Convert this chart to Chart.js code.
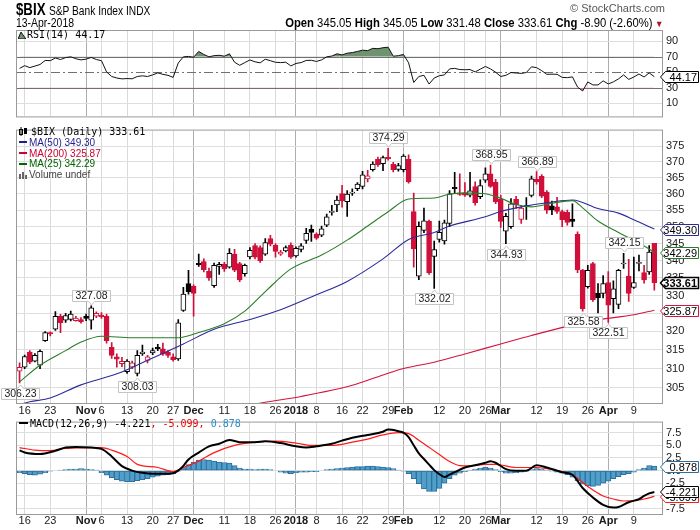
<!DOCTYPE html>
<html><head><meta charset="utf-8"><title>$BIX S&amp;P Bank Index</title>
<script src="https://cdn.jsdelivr.net/npm/chart.js@4.4.1/dist/chart.umd.min.js"></script>
<style>
html,body{margin:0;padding:0;background:#fff}
#wrap{position:relative;width:700px;height:530px;overflow:hidden;background:#fff}
canvas{position:absolute;left:0}
.t{position:absolute;white-space:nowrap;line-height:12px;font-family:"Liberation Sans",Arial,sans-serif;font-size:10px;color:#000}
.m{font-family:"DejaVu Sans Mono",monospace;font-size:10px}
.nl{transform-origin:left center}
.nr{transform-origin:right center}
.ic{display:inline-block;width:8px;height:2px;vertical-align:middle;margin-right:2px;position:relative;top:-1px}
</style></head>
<body><div id="wrap">
<canvas id="cRsi" width="700" height="127" style="top:0px"></canvas>
<canvas id="cPrice" width="700" height="298" style="top:120px"></canvas>
<canvas id="cMacd" width="700" height="118" style="top:412px"></canvas>
<div class="t nl" style="left:16px;top:1px;font-size:17px;line-height:18px;font-weight:bold;transform:scaleX(0.78)">$BIX</div>
<div class="t nl" style="left:49px;top:4px;font-size:12px;line-height:14px;transform:scaleX(0.85)">S&amp;P Bank Index INDX</div>
<div class="t nl" style="left:16px;top:16px;font-size:12px;line-height:14px;transform:scaleX(0.87)">13-Apr-2018</div>
<div class="t nr" id="ohlc" style="right:37px;top:16px;font-size:12px;line-height:14px;transform:scaleX(0.94)"></div>
<div class="t" style="right:35px;top:2px;font-size:11px;color:#555">© StockCharts.com</div>
<div class="t m" id="lgRsi" style="left:18px;top:29px"></div>
<div class="t" id="lgPrice" style="left:19px;top:127px;line-height:10.75px"></div>
<div class="t m" id="lgMacd" style="left:19px;top:418px"></div>
</div>
<script>
const FONT = '"Liberation Sans", Arial, sans-serif';
const RED = '#d0103a';

// ---- categories: trading days ----
const tradingDays = [
  ['2017-10',[13,16,17,18,19,20,23,24,25,26,27,30,31]],
  ['2017-11',[1,2,3,6,7,8,9,10,13,14,15,16,17,20,21,22,24,27,28,29,30]],
  ['2017-12',[1,4,5,6,7,8,11,12,13,14,15,18,19,20,21,22,26,27,28,29]],
  ['2018-01',[2,3,4,5,8,9,10,11,12,16,17,18,19,22,23,24,25,26,29,30,31]],
  ['2018-02',[1,2,5,6,7,8,9,12,13,14,15,16,20,21,22,23,26,27,28]],
  ['2018-03',[1,2,5,6,7,8,9,12,13,14,15,16,19,20,21,22,23,26,27,28,29]],
  ['2018-04',[2,3,4,5,6,9,10,11,12,13]]
];
const dates = [];
tradingDays.forEach(([ym, days]) => days.forEach(d => dates.push(ym + '-' + String(d).padStart(2, '0'))));
const cats = dates.concat(['']);

// ---- x tick labels ----
const tickIdx  = [1,6,13,16,21,26,30,34,40,45,50,54,58,63,67,72,75,82,87,91,94,101,106,111,115,120];
const tickText = ['16','23','Nov','6','13','20','27','Dec','11','18','26','2018','8','16','22','29','Feb','12','20','26','Mar','12','19','26','Apr','9'];
const majorText = ['Nov','Dec','2018','Feb','Mar','Apr'];

// ---- price OHLC ----
const opens = [309.3,310.4,314.4,312.0,310.9,317.5,319.7,320.6,324.2,323.1,
323.3,323.0,323.3,324.2,323.1,324.2,324.5,324.2,315.7,313.1,
311.3,309.2,310.4,308.7,314.0,312.2,314.2,315.7,315.3,314.4,
313.1,312.6,325.8,333.4,332.6,339.2,339.7,336.9,332.8,338.3,
339.0,338.1,341.9,339.1,336.2,341.1,344.4,343.8,341.9,346.5,
344.5,341.9,342.8,344.5,341.4,343.3,345.9,349.2,347.8,347.5,
350.5,354.3,356.6,360.1,357.6,360.2,361.6,362.3,364.6,367.5,
370.8,369.4,371.5,369.2,367.6,367.5,370.8,354.6,335.5,348.9,
351.6,341.2,346.2,345.8,351.0,362.0,360.3,360.4,359.6,362.2,
359.1,364.2,366.2,363.6,358.3,348.7,350.0,358.3,352.2,356.4,
359.5,364.5,365.4,360.5,356.3,356.0,354.6,354.3,352.3,347.7,
337.2,332.5,339.1,330.6,330.6,333.7,329.1,327.5,339.0,335.5,
332.3,339.2,336.5,336.7,345.05];
const highs = [311.5,313.6,314.8,314.0,315.0,320.0,319.9,325.5,324.7,325.0,
325.6,324.2,323.8,324.8,327.08,325.4,325.2,324.8,317.0,313.9,
313.0,312.4,312.0,314.8,316.3,313.5,315.5,316.5,316.8,314.8,
313.9,323.3,332.3,337.2,333.0,341.9,340.5,337.8,339.3,339.5,
339.5,343.5,343.3,339.5,339.0,343.8,345.0,344.3,346.5,347.4,
345.0,343.0,344.3,345.2,344.0,345.0,349.5,350.5,348.2,350.2,
353.8,356.5,359.3,362.6,361.0,361.5,363.5,367.0,367.3,370.0,
371.5,371.8,374.29,369.8,369.5,372.3,372.2,360.2,351.5,355.6,
352.0,345.7,351.7,352.0,361.0,366.7,366.2,363.5,366.7,363.7,
364.3,368.1,368.95,364.5,359.5,354.0,358.5,359.2,356.5,358.8,
365.5,366.89,366.0,361.0,357.8,358.9,355.0,355.0,356.9,348.5,
337.5,338.6,339.5,333.4,335.7,336.8,334.2,337.5,342.15,340.4,
341.0,341.6,338.6,344.4,345.05];
const lows = [306.23,310.0,311.3,311.8,310.0,317.3,318.8,320.3,319.7,322.5,
322.9,322.8,322.3,323.0,320.6,323.8,323.6,316.8,312.7,310.4,
310.5,308.7,310.0,308.03,313.5,311.5,313.7,314.8,313.5,313.0,
312.0,312.2,325.5,330.4,324.2,338.3,336.7,334.3,332.3,336.0,
336.9,337.8,336.8,333.9,335.5,340.5,340.5,339.5,341.5,344.3,
341.0,341.5,342.5,340.6,341.0,342.5,345.0,345.6,346.2,347.0,
350.0,353.5,354.5,355.9,353.1,359.5,361.0,361.5,363.7,367.0,
368.5,367.2,370.5,366.8,367.0,366.8,363.3,338.1,334.5,348.2,
336.0,332.02,345.4,344.8,350.0,360.0,359.5,359.2,359.0,356.5,
358.5,363.5,362.0,357.0,349.8,344.93,349.5,355.5,351.0,352.2,
359.0,363.0,358.8,354.0,353.6,354.0,350.0,350.5,350.0,336.5,
325.58,332.1,328.3,325.1,329.3,322.51,325.1,326.3,337.7,328.3,
332.0,337.0,333.5,336.0,331.48];
const closes = [310.3,313.2,311.7,313.5,314.6,319.7,319.3,324.2,322.4,324.4,
324.8,323.7,322.7,323.6,326.5,325.0,324.1,317.5,313.5,312.5,
311.9,312.0,311.5,313.5,314.4,313.1,314.8,315.3,313.9,313.5,
312.4,322.4,330.4,331.1,330.6,338.8,337.4,335.0,338.6,338.9,
337.6,342.1,337.2,334.4,338.6,343.0,341.0,340.0,345.3,344.8,
342.7,342.5,343.8,341.0,343.6,344.3,348.0,348.3,346.6,349.4,
353.0,354.5,358.1,357.8,359.9,360.5,363.0,365.9,365.6,369.3,
369.1,371.3,371.0,367.5,368.8,371.8,363.7,343.4,350.1,351.8,
336.5,343.2,348.3,351.2,360.0,361.6,359.8,359.6,360.9,357.3,
362.5,366.2,362.3,357.5,351.6,353.1,356.9,356.6,355.6,356.1,
364.6,363.7,359.3,355.0,355.1,354.6,352.1,351.3,351.6,337.3,
326.3,337.2,328.8,329.3,333.4,327.3,331.9,337.2,339.3,330.6,
333.7,339.5,334.4,342.51,333.61];
const firstPrevClose = 311.0;   // close of the day before the window (estimated)

// annotated extremes (candle indices)
const peakIdx = [14,72,92,101,118];
const troughIdx = [0,23,81,95,110,115];

// ---- moving averages (read points: [dayIndex, value]) ----
const ma25Pts = [[0,306.5],[4,310.9],[9,314.8],[12,317.1],[16,318.7],[22,318.3],[31,318.3],[35,319.7],[40,322.1],[44,325.6],[48,331.1],[53,337.6],[59,341.6],[64,346.0],[68,350.2],[72,354.5],[76,358.4],[81,358.7],[84,359.9],[88,360.2],[91,360.0],[94,358.6],[97,356.7],[100,356.0],[104,357.1],[108,357.9],[110,355.7],[113,351.7],[117,348.3],[120,345.9],[123,343.4],[124,342.29]];
const ma50Pts = [[0,300.6],[2,301.3],[6,302.3],[12,305.7],[19,308.6],[25,312.2],[32,316.6],[38,320.6],[45,323.3],[51,326.0],[58,330.2],[64,334.0],[71,340.5],[76,346.2],[81,348.3],[84,350.2],[91,353.0],[94,354.6],[98,356.0],[104,357.5],[108,358.1],[113,355.5],[117,354.1],[120,352.1],[124,349.30]];
const ma200Pts = [[46,300.7],[48,301.2],[55,302.7],[65,305.6],[71,308.3],[75,310.0],[81,311.7],[87,313.9],[94,316.6],[100,318.9],[107,321.4],[113,323.2],[120,324.6],[124,325.87]];

// ---- RSI(14) ----
const rsi = [55,58.5,56,58,60,65.3,65,68.5,66.5,69,
70,67.5,66,67,69.2,66.5,65,50.4,44.5,42.5,
41.4,41.8,41.5,44.5,45.3,44.5,46.5,49.2,47.3,46,
43.3,62,70,70.5,69.5,77,73,70,71.5,72,
70.8,73.9,63,59,62.5,66,63.5,62.2,66.9,65,
62.9,62.5,63,58.2,61.4,62.5,65.3,65.5,64,66,
70,71,73.9,72.5,74.7,75.5,77,78.6,78,81,
80.5,81.8,82.5,70.8,71.5,73.1,62.2,36.7,44.5,46,
34.7,42.5,45.5,46.5,54.3,55,53.5,53.2,53.5,50.4,
54,57.5,54.3,50,44.5,46,49.6,49,48.5,49.6,
57,56,52,47.3,47.5,47.3,43.3,43,44,30.8,
25.7,37.4,33.5,33.5,38.8,34.8,37.5,41.4,46.5,40.7,
43.8,47.7,43.8,49.2,44.17];
const rsiLevels = [30, 50, 70];

// ---- MACD(12,26,9) ----
const macdPts = [[0,4.0],[1,3.6],[4,3.3],[7,3.94],[9,4.56],[11,4.69],[14,4.56],[16,4.3],[18,2.8],[20,0.9],[22,0.0],[24,-0.44],[26,-0.63],[28,-0.63],[30,-0.5],[31,0.0],[32,0.94],[33,2.2],[35,3.56],[37,4.8],[39,5.3],[41,6.06],[43,5.62],[46,5.62],[48,5.81],[51,5.44],[54,4.8],[56,4.56],[58,4.8],[61,5.3],[63,5.93],[65,6.5],[68,7.05],[71,7.69],[72,8.12],[74,7.8],[75,7.5],[76,6.6],[77,5.0],[78,3.4],[79,2.3],[80,1.2],[81,0.1],[82,-0.7],[83,-1.25],[84,-0.8],[85,-0.3],[87,0.62],[89,1.05],[91,1.56],[92,1.87],[93,1.56],[95,0.31],[97,0.0],[99,0.0],[101,1.05],[103,0.62],[106,-0.31],[108,-0.81],[110,-3.44],[112,-5.31],[114,-6.75],[116,-7.31],[117,-7.19],[119,-6.25],[121,-5.62],[122,-5.0],[123,-4.5],[124,-4.221]];
const signalPts = [[0,4.56],[3,4.05],[6,3.94],[9,4.37],[12,4.5],[16,4.56],[18,4.05],[21,2.81],[23,1.24],[27,0.62],[30,-0.19],[32,0.62],[35,1.87],[38,3.56],[42,4.99],[46,5.62],[50,5.81],[54,5.44],[57,4.99],[61,4.99],[65,5.62],[68,6.24],[71,7.05],[74,7.5],[76,7.3],[78,6.0],[80,4.6],[82,3.2],[84,1.8],[86,1.0],[88,0.95],[91,1.24],[93,1.24],[97,0.62],[101,0.62],[105,0.0],[108,-0.81],[111,-3.12],[114,-5.0],[116,-5.6],[118,-6.0],[120,-5.94],[122,-5.6],[124,-5.099]];
const hist = [-0.4,-0.6,-0.8,-0.9,-0.7,-0.4,-0.1,0.0,0.1,0.2,
0.3,0.3,0.4,0.3,0.2,0.1,-0.4,-0.9,-1.4,-1.8,
-2.1,-2.2,-2.2,-2.0,-1.8,-1.6,-1.3,-1.1,-0.9,-0.8,
-0.6,-0.1,0.6,1.2,1.7,2.1,2.2,2.1,1.9,1.7,
1.6,1.5,1.0,0.5,0.3,0.3,0.2,0.3,0.3,0.2,
0.0,-0.3,-0.5,-0.6,-0.4,-0.3,-0.3,-0.2,-0.2,0.0,
0.2,0.3,0.4,0.5,0.6,0.7,0.8,0.8,0.9,0.9,
0.8,0.7,0.6,0.4,0.1,-0.1,-0.6,-1.6,-2.6,-3.6,
-4.1,-4.1,-3.5,-2.5,-1.6,-0.9,-0.5,-0.2,0.1,0.3,
0.5,0.7,0.5,0.2,-0.2,-0.5,-0.5,-0.4,-0.3,-0.1,
0.2,0.4,0.3,0.1,-0.1,-0.3,-0.5,-0.8,-1.3,-2.0,
-2.7,-3.0,-3.1,-2.9,-2.5,-2.1,-1.6,-1.2,-0.8,-0.6,
-0.3,0.2,0.5,1.0,0.878];

// ---- axis ticks ----
const priceTicks = [305,310,315,320,325,330,335,340,345,350,355,360,365,370,375];
const rsiTicks = [10,30,50,70,90];
const macdTicks = [-7.5,-5,-2.5,0,2.5,5,7.5];

// ================= helpers =================
function series(pts){ const a = new Array(dates.length).fill(null); pts.forEach(([i, v]) => { a[i] = v; }); return a; }
const last = a => { for (let i = a.length - 1; i >= 0; i--) if (a[i] != null) return a[i]; };
const tickMap = {}; tickIdx.forEach((ix, k) => { tickMap[ix] = tickText[k]; });
const isMajor = i => majorText.includes(tickMap[i]);
const gridX = i => tickMap[i] === undefined ? 'rgba(0,0,0,0)' : (isMajor(i) ? '#adadad' : '#dadada');

function xScale(showTicks, h, pad){
  return {
    type: 'category', labels: cats, offset: true,
    grid: { offset: false, drawTicks: false, lineWidth: 1, color: c => gridX(c.index) },
    border: { display: false },
    ticks: showTicks ? {
      autoSkip: false, maxRotation: 0, minRotation: 0, padding: pad, color: '#1a1a1a',
      font: c => ({ family: FONT, size: 11, weight: isMajor(c.index) ? 'bold' : 'normal' }),
      callback: (v, i) => (tickMap[i] !== undefined ? tickMap[i] : '')
    } : { display: false },
    afterFit: s => { s.height = h; }
  };
}
function yScale(extra, ticks, fmt){
  return Object.assign({
    position: 'right', bounds: 'data',
    afterBuildTicks: s => { s.ticks = ticks.map(v => ({ value: v })); },
    afterFit: s => { s.width = 38; },
    grid: { color: '#dedede', drawTicks: false },
    border: { display: false },
    ticks: { padding: 4, color: '#1a1a1a', autoSkip: false, font: { family: FONT, size: 11 }, callback: fmt }
  }, extra);
}
const frame = { id: 'frame', afterDraw(chart){
  const { ctx, chartArea: a } = chart; ctx.save(); ctx.strokeStyle = '#9a9a9a'; ctx.lineWidth = 1;
  ctx.strokeRect(a.left - 0.5, a.top - 0.5, a.right - a.left + 1, a.bottom - a.top + 1); ctx.restore(); } };

function valueTag(ctx, y, text, border, bold){
  ctx.save();
  ctx.font = (bold ? 'bold ' : '') + '11px ' + FONT;
  const x0 = 660.5, x1 = 698.5, h = 11;
  const top = Math.round(y - h / 2) + 0.5, bot = top + h, mid = (top + bot) / 2;
  ctx.beginPath(); ctx.moveTo(x0, mid); ctx.lineTo(x0 + 5, top); ctx.lineTo(x1, top); ctx.lineTo(x1, bot); ctx.lineTo(x0 + 5, bot); ctx.closePath();
  ctx.fillStyle = '#fff'; ctx.fill(); ctx.strokeStyle = border; ctx.lineWidth = bold ? 1.5 : 1; ctx.stroke();
  ctx.fillStyle = '#000'; ctx.textBaseline = 'middle'; ctx.textAlign = 'right';
  ctx.fillText(text, x1 - 1.5, mid + 0.5);
  ctx.restore();
}
function valueTags(list){
  return { id: 'vtags', afterDraw(chart){ const ys = chart.scales.y; list.forEach(t => valueTag(chart.ctx, ys.getPixelForValue(t.v), t.text, t.color, t.bold)); } };
}
function extremeTag(ctx, x, y, text, up){
  const w = Math.round(ctx.measureText(text).width) + 6, h = 11;
  const bx = Math.round(x - w / 2) + 0.5;
  const cx = Math.round(x) + 0.5;
  ctx.beginPath();
  if (up){
    const bb = Math.round(y) - 4.5, bt = bb - h;
    ctx.moveTo(bx, bt); ctx.lineTo(bx + w, bt); ctx.lineTo(bx + w, bb); ctx.lineTo(cx + 3, bb); ctx.lineTo(cx, bb + 3.5); ctx.lineTo(cx - 3, bb); ctx.lineTo(bx, bb); ctx.closePath();
    ctx.fillStyle = '#fff'; ctx.fill(); ctx.stroke();
    ctx.fillStyle = '#1a1a1a'; ctx.fillText(text, bx + w / 2, (bt + bb) / 2 + 0.5);
  } else {
    const bt = Math.round(y) + 5.5, bb = bt + h;
    ctx.moveTo(bx, bt); ctx.lineTo(cx - 3, bt); ctx.lineTo(cx, bt - 3.5); ctx.lineTo(cx + 3, bt); ctx.lineTo(bx + w, bt); ctx.lineTo(bx + w, bb); ctx.lineTo(bx, bb); ctx.closePath();
    ctx.fillStyle = '#fff'; ctx.fill(); ctx.stroke();
    ctx.fillStyle = '#1a1a1a'; ctx.fillText(text, bx + w / 2, (bt + bb) / 2 + 0.5);
  }
}
const extremes = { id: 'extremes', afterDatasetsDraw(chart){
  const { ctx } = chart, xs = chart.scales.x, ys = chart.scales.y;
  ctx.save(); ctx.font = '10.5px ' + FONT; ctx.textAlign = 'center'; ctx.textBaseline = 'middle'; ctx.strokeStyle = '#c4c4c4'; ctx.lineWidth = 1;
  peakIdx.forEach(i => extremeTag(ctx, xs.getPixelForValue(i), ys.getPixelForValue(highs[i]), highs[i].toFixed(2), true));
  troughIdx.forEach(i => extremeTag(ctx, xs.getPixelForValue(i), ys.getPixelForValue(lows[i]), lows[i].toFixed(2), false));
  ctx.restore(); } };
const rsiRefLines = { id: 'rsiRef', beforeDatasetsDraw(chart){
  const { ctx, chartArea: a } = chart, ys = chart.scales.y;
  ctx.save(); ctx.strokeStyle = '#707070'; ctx.lineWidth = 1;
  rsiLevels.forEach(v => {
    const py = Math.round(ys.getPixelForValue(v)) + 0.5;
    ctx.setLineDash(v === 50 ? [9, 3, 2, 3] : []);
    ctx.beginPath(); ctx.moveTo(a.left, py); ctx.lineTo(a.right, py); ctx.stroke();
  });
  ctx.restore(); } };

const baseOpts = (padTop, padBottom) => ({
  responsive: false, animation: false, devicePixelRatio: 1, events: [],
  layout: { padding: { left: 17, right: 0, top: padTop, bottom: padBottom } },
  plugins: { legend: { display: false }, tooltip: { enabled: false } }
});

// ================= RSI panel =================
new Chart(document.getElementById('cRsi'), {
  type: 'line',
  data: { labels: cats, datasets: [
    { data: rsi, borderColor: '#111', borderWidth: 1, pointRadius: 0, tension: 0,
      fill: { target: { value: 70 }, above: '#6e936e', below: 'rgba(0,0,0,0)' }, order: 0 },
    { data: rsi, borderColor: 'rgba(0,0,0,0)', borderWidth: 0, pointRadius: 0, tension: 0,
      fill: { target: { value: 30 }, above: 'rgba(0,0,0,0)', below: '#e07a85' }, order: 1 }
  ]},
  options: Object.assign(baseOpts(31, 1), {
    scales: {
      x: xScale(false, 0, 0),
      y: yScale({ type: 'linear', min: -7.3, max: 103.5,
        grid: { drawTicks: false, color: c => ((c.tick && (c.tick.value === 10 || c.tick.value === 90)) ? '#dedede' : 'rgba(0,0,0,0)') } },
        rsiTicks, v => String(v))
    }
  }),
  plugins: [rsiRefLines, frame, valueTags([{ v: last(rsi), text: last(rsi).toFixed(2), color: '#000' }])]
});

// ================= Price panel =================
const wickData = dates.map((d, i) => [lows[i], highs[i]]);
const bodyData = dates.map((d, i) => [Math.min(opens[i], closes[i]), Math.max(opens[i], closes[i])]);
const candleCol = dates.map((d, i) => (closes[i] >= (i ? closes[i - 1] : firstPrevClose) ? '#000000' : RED));
const bodyFill = dates.map((d, i) => (closes[i] > opens[i] ? '#ffffff' : candleCol[i]));
const ma25 = series(ma25Pts), ma50 = series(ma50Pts), ma200 = series(ma200Pts);
const lineDs = (data, color) => ({ type: 'line', data, borderColor: color, borderWidth: 1.1, pointRadius: 0, spanGaps: true, cubicInterpolationMode: 'monotone', order: 0 });

new Chart(document.getElementById('cPrice'), {
  type: 'bar',
  data: { labels: cats, datasets: [
    lineDs(ma25, '#2a7d2a'),
    lineDs(ma50, '#2b2b9c'),
    lineDs(ma200, '#d4143c'),
    { data: bodyData, backgroundColor: bodyFill, borderColor: candleCol, borderWidth: 1, borderSkipped: false, barThickness: 5, grouped: false, minBarLength: 1, order: 1 },
    { data: wickData, backgroundColor: candleCol, borderWidth: 0, barThickness: 1, grouped: false, order: 2 }
  ]},
  options: Object.assign(baseOpts(6, 0), {
    scales: {
      x: xScale(true, 15, 1),
      y: yScale({ type: 'logarithmic', min: 301, max: 380 }, priceTicks, v => String(v))
    }
  }),
  plugins: [frame, extremes, valueTags([
    { v: last(ma50), text: last(ma50).toFixed(2), color: '#2b2b9c' },
    { v: last(ma25), text: last(ma25).toFixed(2), color: '#2a7d2a' },
    { v: last(closes), text: last(closes).toFixed(2), color: '#000', bold: true },
    { v: last(ma200), text: last(ma200).toFixed(2), color: '#d4143c' }
  ])]
});

// ================= MACD panel =================
const macd = series(macdPts), signal = series(signalPts);
new Chart(document.getElementById('cMacd'), {
  type: 'bar',
  data: { labels: cats, datasets: [
    { type: 'line', data: macd, borderColor: '#000', borderWidth: 2, pointRadius: 0, spanGaps: true, cubicInterpolationMode: 'monotone', order: 0 },
    { type: 'line', data: signal, borderColor: '#ff1a1a', borderWidth: 1.2, pointRadius: 0, spanGaps: true, cubicInterpolationMode: 'monotone', order: 1 },
    { data: hist, backgroundColor: '#4f9fcc', borderColor: '#2e6f9c', borderWidth: 1, borderSkipped: false, barPercentage: 1, categoryPercentage: 1, order: 2 }
  ]},
  options: Object.assign(baseOpts(6, 0), {
    scales: {
      x: xScale(true, 16, 0),
      y: yScale({ type: 'linear', min: -8.57, max: 9.49 }, macdTicks, v => v.toFixed(1))
    }
  }),
  plugins: [frame, valueTags([
    { v: last(hist), text: last(hist).toFixed(3), color: '#2e6f9c' },
    { v: last(signal), text: last(signal).toFixed(3), color: '#ff1a1a' },
    { v: last(macd), text: last(macd).toFixed(3), color: '#000' }
  ])]
});

// ================= text legends =================
const n = closes.length - 1;
const chg = closes[n] - closes[n - 1];
document.getElementById('ohlc').innerHTML =
  '<b>Open</b> ' + opens[n].toFixed(2) + ' <b>High</b> ' + highs[n].toFixed(2) + ' <b>Low</b> ' + lows[n].toFixed(2) +
  ' <b>Close</b> ' + closes[n].toFixed(2) + ' <b>Chg</b> ' + chg.toFixed(2) + ' (' + (chg / closes[n - 1] * 100).toFixed(2) + '%)' +
  '<span style="color:#b0102a;font-size:9px"> ▼</span>';
document.getElementById('lgRsi').innerHTML =
  '<svg width="8" height="9" style="vertical-align:-1px;margin-right:1px"><polygon points="0,9 3,2 5,5 8,9" fill="#6e936e" stroke="#111" stroke-width="1"/></svg>RSI(14) ' + last(rsi).toFixed(2);
document.getElementById('lgPrice').innerHTML =
  '<div class="m"><svg width="10" height="9" style="vertical-align:-1px;margin-right:2px"><rect x="0.5" y="2.5" width="3" height="5" fill="#fff" stroke="#000"/><rect x="5" y="1" width="3" height="6" fill="#000"/><line x1="2" y1="0" x2="2" y2="9" stroke="#000"/></svg>$BIX (Daily) ' + last(closes).toFixed(2) + '</div>' +
  '<div style="color:#1f1f8f"><span class="ic" style="background:#1f1f8f"></span>MA(50) ' + last(ma50).toFixed(2) + '</div>' +
  '<div style="color:#cc0033"><span class="ic" style="background:#cc0033"></span>MA(200) ' + last(ma200).toFixed(2) + '</div>' +
  '<div style="color:#006400"><span class="ic" style="background:#006400"></span>MA(25) ' + last(ma25).toFixed(2) + '</div>' +
  '<div style="color:#444"><svg width="9" height="8" style="vertical-align:-1px;margin-right:1px"><rect x="0" y="3" width="2" height="5" fill="#666"/><rect x="3" y="1" width="2" height="7" fill="#666"/><rect x="6" y="4" width="2" height="4" fill="#666"/></svg>Volume undef</div>';
document.getElementById('lgMacd').innerHTML =
  '<span class="ic" style="background:#000;width:9px"></span>MACD(12,26,9) ' + last(macd).toFixed(3) +
  '<span style="color:#e00">, ' + last(signal).toFixed(3) + ',</span><span style="color:#2f8ac4"> ' + last(hist).toFixed(3) + '</span>';
</script>
</body></html>
